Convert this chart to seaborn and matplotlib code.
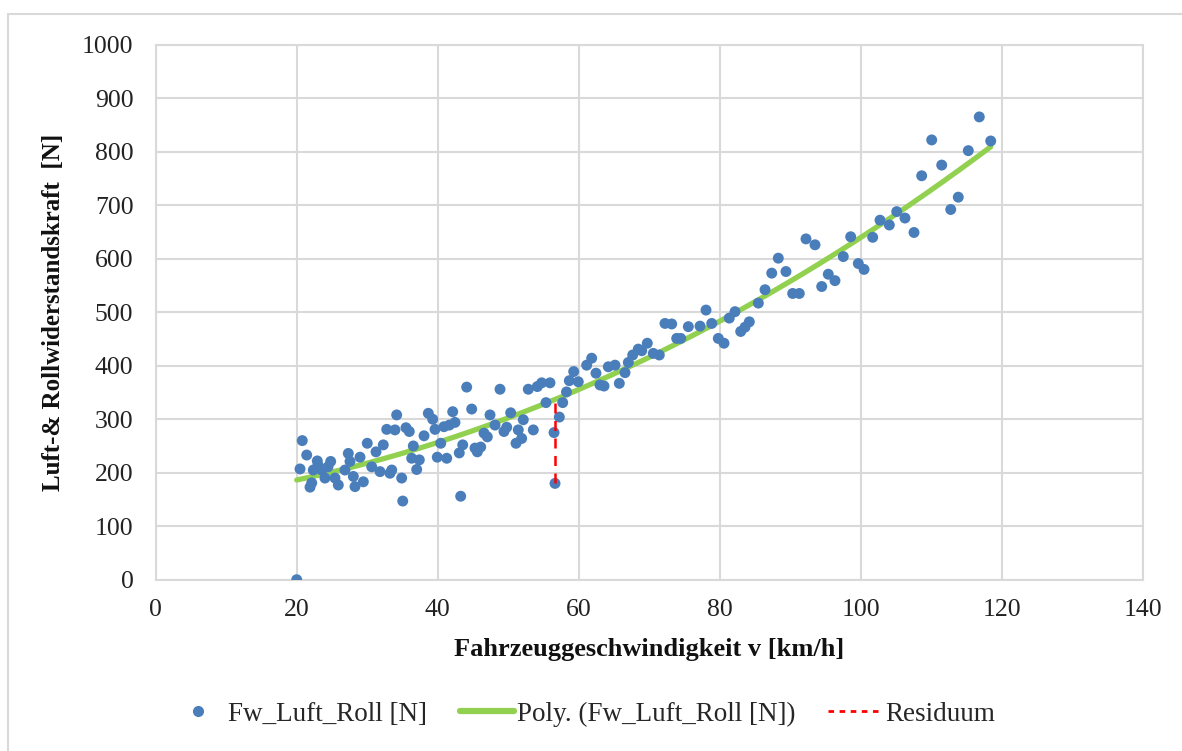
import numpy as np
import pandas as pd
import matplotlib
matplotlib.use("Agg")
import matplotlib.pyplot as plt
import seaborn as sns
from matplotlib.lines import Line2D

# ---------------- data ----------------
speed_kmh = [
    20.0, 20.47, 20.79, 21.42, 21.89, 22.13, 22.35, 22.92, 23.02, 23.55,
    24.01, 24.44, 24.82, 25.43, 25.9, 26.85, 27.32, 27.56, 28.03, 28.27,
    28.98, 29.45, 30.01, 30.64, 31.25, 31.82, 32.28, 32.77, 33.23, 33.48,
    33.94, 34.18, 34.89, 35.04, 35.5, 35.97, 36.31, 36.54, 37.02, 37.39,
    38.06, 38.67, 39.29, 39.62, 39.94, 40.43, 40.89, 41.28, 41.65, 42.13,
    42.45, 43.06, 43.26, 43.55, 44.11, 44.82, 45.29, 45.62, 46.1, 46.57,
    47.04, 47.42, 48.13, 48.84, 49.4, 49.79, 50.35, 51.11, 51.43, 51.91,
    52.14, 52.85, 53.56, 54.13, 54.75, 55.36, 55.93, 56.5, 56.64, 57.25,
    57.73, 58.27, 58.67, 59.29, 59.94, 61.13, 61.84, 62.45, 63.02, 63.59,
    64.2, 65.15, 65.76, 66.57, 67.04, 67.66, 68.45, 68.94, 69.73, 70.58,
    71.43, 72.24, 73.19, 73.9, 74.47, 75.55, 77.21, 78.06, 78.87, 79.8,
    80.61, 81.36, 82.17, 82.98, 83.59, 84.2, 85.48, 86.43, 87.38, 88.31,
    89.4, 90.35, 91.29, 92.24, 93.52, 94.47, 95.4, 96.35, 97.53, 98.58,
    99.66, 100.47, 101.7, 102.74, 104.06, 105.11, 106.28, 107.56, 108.65, 110.07,
    111.49, 112.77, 113.84, 115.26, 116.82, 118.44,
]
force_n = [
    0, 207, 260, 233, 173, 181, 205, 222, 214, 205,
    190, 211, 221, 190, 177, 205, 236, 221, 193, 174,
    229, 183, 255, 211, 239, 202, 252, 281, 199, 205,
    280, 308, 190, 147, 284, 277, 227, 250, 206, 224,
    269, 311, 300, 281, 229, 255, 286, 227, 289, 314,
    294, 237, 156, 252, 360, 319, 246, 239, 248, 274,
    267, 308, 289, 356, 277, 285, 312, 255, 280, 264,
    299, 356, 280, 361, 368, 331, 368, 275, 180, 304,
    331, 351, 372, 389, 370, 401, 414, 386, 364, 362,
    398, 401, 367, 387, 406, 420, 431, 428, 442, 423,
    420, 479, 478, 451, 451, 473, 474, 504, 479, 451,
    442, 489, 501, 464, 472, 482, 517, 542, 573, 601,
    576, 535, 535, 637, 626, 548, 571, 559, 604, 641,
    591, 580, 640, 672, 663, 688, 676, 649, 755, 822,
    775, 692, 715, 802, 865, 820,
]
residual_speed = 56.64          # point whose residual is highlighted
residual_force = 180

x_ticks = [0, 20, 40, 60, 80, 100, 120, 140]
y_ticks = [0, 100, 200, 300, 400, 500, 600, 700, 800, 900, 1000]

label_points = "Fw_Luft_Roll [N]"
label_fit = "Poly. (Fw_Luft_Roll [N])"
label_res = "Residuum"
x_title = "Fahrzeuggeschwindigkeit v [km/h]"
y_title = "Luft-& Rollwiderstandskraft  [N]"

# ---------------- styling ----------------
sns.set_theme(style="white")
plt.rcParams["font.family"] = ["Liberation Serif", "DejaVu Serif"]

blue = "#4a7ebb"
green = "#92d050"
red = "#ff0000"
grid_c = "#d9d9d9"

fig = plt.figure(figsize=(11.82, 7.51), dpi=100)
W, H = 1182, 751
ax = fig.add_axes([155.7 / W, 1 - 579.7 / H, (1142.7 - 155.7) / W, (579.7 - 44.7) / H])

df = pd.DataFrame({"v": speed_kmh, "F": force_n})

# polynomial (2nd order) trendline fitted on the data, like Excel's "Poly."
coef = np.polyfit(df["v"], df["F"], 2)
xs = np.linspace(df["v"].min(), df["v"].max(), 200)
fit_df = pd.DataFrame({"v": xs, "F": np.polyval(coef, xs)})

sns.lineplot(data=fit_df, x="v", y="F", ax=ax, color=green, linewidth=3.8,
             zorder=3, legend=False)
sns.scatterplot(data=df, x="v", y="F", ax=ax, color=blue, s=62,
                edgecolor="none", zorder=4, legend=False)

res_top = np.polyval(coef, residual_speed)
ax.plot([residual_speed, residual_speed], [residual_force, res_top],
        color=red, linestyle=(0, (4, 3)), linewidth=1.8, zorder=5)

ax.set_xlim(0, 140)
ax.set_ylim(0, 1000)
ax.set_xticks(x_ticks)
ax.set_yticks(y_ticks)
ax.grid(True, color=grid_c, linewidth=1.5)
ax.set_axisbelow(True)
for s in ax.spines.values():
    s.set_color(grid_c)
    s.set_linewidth(1.5)
ax.tick_params(axis="both", length=0, labelsize=18.5, colors="#222222")
ax.tick_params(axis="y", pad=16)
ax.tick_params(axis="x", pad=14)

ax.set_xlabel(x_title, fontsize=19, fontweight="bold", labelpad=12, color="#111111")
ax.set_ylabel(y_title, fontsize=18, fontweight="bold", labelpad=12, color="#111111")

# outer chart frame (only top and left edges visible in the reference)
fig.add_artist(Line2D([8.3 / W, 8.3 / W], [0, 1 - 14 / H], transform=fig.transFigure,
                      color=grid_c, linewidth=1.5))
fig.add_artist(Line2D([8.3 / W, 1], [1 - 14 / H, 1 - 14 / H], transform=fig.transFigure,
                      color=grid_c, linewidth=1.5))

handles = [
    Line2D([], [], marker="o", linestyle="none", color=blue, markersize=7),
    Line2D([], [], color=green, linewidth=4.5),
    Line2D([], [], color=red, linewidth=2, linestyle=(0, (2, 2))),
]
fig.legend(handles, [label_points, label_fit, label_res], loc="center",
           bbox_to_anchor=(583 / W, 1 - 714 / H), ncol=3, frameon=False,
           fontsize=19.5, handlelength=2.0, handletextpad=0.12, columnspacing=1.2)

fig.savefig("out.png", dpi=100, facecolor="white")
